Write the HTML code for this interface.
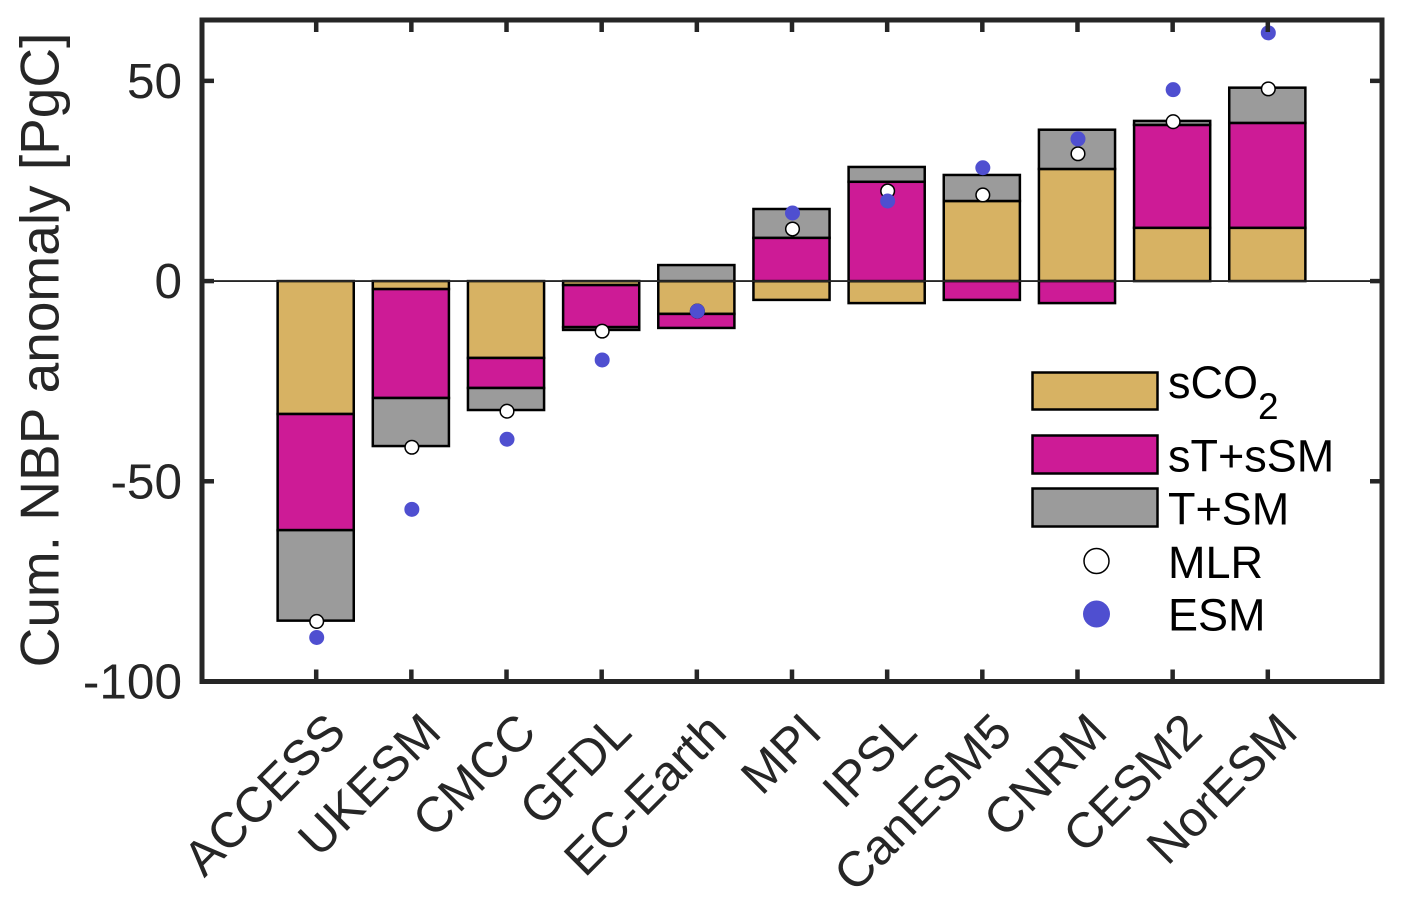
<!DOCTYPE html>
<html lang="en">
<head>
<meta charset="utf-8">
<title>Cumulative NBP anomaly</title>
<style>
html,body{margin:0;padding:0;background:#fff;width:1402px;height:905px;overflow:hidden}
svg{display:block}
text{font-family:"Liberation Sans",Arial,sans-serif}
</style>
</head>
<body>
<svg id="chart" width="1402" height="905" viewBox="0 0 1402 905" xmlns="http://www.w3.org/2000/svg">
  <rect x="0" y="0" width="1402" height="905" fill="#fff"/>
  <g id="bars"></g>
  <g id="markers"></g>
  <g id="axes"></g>
  <text transform="translate(58.5,350) rotate(-90)" text-anchor="middle" font-size="55" fill="#262626">Cum. NBP anomaly [PgC]</text>
  <g>
    <rect x="1032.5" y="372.5" width="125" height="37" fill="#d7b263" stroke="#000" stroke-width="2.5"/>
    <text x="1168" y="398" font-size="45" fill="#000">sCO<tspan font-size="37" dy="21">2</tspan></text>
    <rect x="1032.5" y="435.5" width="125" height="38" fill="#cd1b96" stroke="#000" stroke-width="2.5"/>
    <text x="1168" y="471.5" font-size="45" fill="#000">sT+sSM</text>
    <rect x="1032.5" y="488.5" width="125" height="38" fill="#9b9b9b" stroke="#000" stroke-width="2.5"/>
    <text x="1168" y="524.5" font-size="45" fill="#000">T+SM</text>
    <circle cx="1096.5" cy="561" r="12.5" fill="#fff" stroke="#000" stroke-width="1.5"/>
    <text x="1168" y="578" font-size="45" fill="#000">MLR</text>
    <circle cx="1096.5" cy="614" r="13.5" fill="#4f4fd0"/>
    <text x="1168" y="630.5" font-size="45" fill="#000">ESM</text>
  </g>
</svg>
<script>
const models = ["ACCESS","UKESM","CMCC","GFDL","EC-Earth","MPI","IPSL","CanESM5","CNRM","CESM2","NorESM"];
const sCO2 = [-33.2,-2,-19.2,-1,-8.2,-4.7,-5.5,20,28,13.3,13.3];
const sTsSM = [-29,-27.2,-7.5,-10.5,-3.5,10.8,24.8,-4.7,-5.5,25.7,26.2];
const TSM = [-22.6,-12,-5.5,-0.7,4,7.2,3.7,6.5,9.8,1,8.8];
const MLR = [-85,-41.5,-32.5,-12.5,-7.5,13,22.5,21.5,31.8,39.8,48];
const ESM = [-89,-57,-39.5,-19.7,-7.5,17,20,28.3,35.5,47.8,62];
const yTicks = [-100,-50,0,50];

const NS = "http://www.w3.org/2000/svg";
const plotL = 202, plotR = 1382, plotT = 20, plotB = 681.5;
const xMin = -0.2, xMax = 12.2, yMin = -100, yMax = 65.2;
const barW = 0.8;
const axisColor = "#262626";
function xs(v){ return plotL + (v - xMin) / (xMax - xMin) * (plotR - plotL); }
function ys(v){ return plotB - (v - yMin) / (yMax - yMin) * (plotB - plotT); }
function mk(tag, parent, attrs){
  const el = document.createElementNS(NS, tag);
  for (const k in attrs) el.setAttribute(k, attrs[k]);
  parent.appendChild(el);
  return el;
}
const barsG = document.getElementById("bars");
const markersG = document.getElementById("markers");
const axesG = document.getElementById("axes");
const series = [
  {key:"sco2", vals:sCO2, fill:"#d7b263"},
  {key:"st-ssm", vals:sTsSM, fill:"#cd1b96"},
  {key:"t-sm", vals:TSM, fill:"#9b9b9b"}
];
models.forEach(function(m, i){
  let pos = 0, neg = 0;
  series.forEach(function(s){
    const v = s.vals[i];
    const base = v >= 0 ? pos : neg;
    const end = base + v;
    if (v >= 0) pos = end; else neg = end;
    const y0 = ys(Math.max(base, end)), y1 = ys(Math.min(base, end));
    const r = mk("rect", barsG, {x: xs(i + 1 - barW / 2) - 0.5, y: y0, width: xs(barW) - xs(0), height: y1 - y0, fill: s.fill, stroke: "#000", "stroke-width": 2.5});
    
    
  });
  const a = mk("circle", markersG, {cx: xs(i + 1) + 0.5, cy: ys(MLR[i]), r: 6.8, fill: "#fff", stroke: "#000", "stroke-width": 1.5});
  
  
  const b = mk("circle", markersG, {cx: xs(i + 1) + 0.5, cy: ys(ESM[i]), r: 7.5, fill: "#4f4fd0"});
  
  
  const t1 = mk("line", axesG, {x1: xs(i + 1), x2: xs(i + 1), y1: plotB, y2: plotB - 12, stroke: axisColor, "stroke-width": 4.5});
  
  
  const t2 = mk("line", axesG, {x1: xs(i + 1), x2: xs(i + 1), y1: plotT, y2: plotT + 12, stroke: axisColor, "stroke-width": 4.5});
  
  
  const lab = mk("text", axesG, {transform: "translate(" + (xs(i + 1) + 32) + "," + (plotB + 53) + ") rotate(-45)", "text-anchor": "end", "font-size": 49.5, fill: axisColor});
  
  
  lab.textContent = m;
});
const zero = mk("line", axesG, {x1: plotL, x2: plotR, y1: ys(0), y2: ys(0), stroke: axisColor, "stroke-width": 1.8});


yTicks.forEach(function(v){
  const t1 = mk("line", axesG, {x1: plotL, x2: plotL + 12, y1: ys(v), y2: ys(v), stroke: axisColor, "stroke-width": 4.5});
  
  
  const t2 = mk("line", axesG, {x1: plotR, x2: plotR - 12, y1: ys(v), y2: ys(v), stroke: axisColor, "stroke-width": 4.5});
  
  
  const lab = mk("text", axesG, {x: 182, y: ys(v) + 17, "text-anchor": "end", "font-size": 49.5, fill: axisColor});
  
  
  lab.textContent = String(v);
});
const frame = mk("rect", axesG, {x: plotL, y: plotT, width: plotR - plotL, height: plotB - plotT, fill: "none", stroke: axisColor, "stroke-width": 5});


</script>
</body>
</html>
